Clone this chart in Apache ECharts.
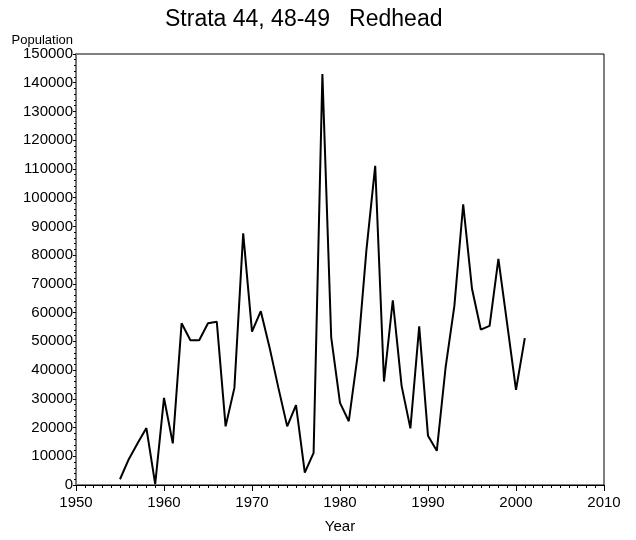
<!DOCTYPE html>
<html>
<head>
<meta charset="utf-8">
<script src="https://cdn.jsdelivr.net/npm/echarts@6/dist/echarts.min.js"></script>
<style>
  html, body { margin: 0; padding: 0; background: #fff; }
  #chart { width: 636px; height: 540px; }
</style>
</head>
<body>
<div id="chart"></div>
<script>
// Redhead population, strata 44, 48-49
const years = [
    1955, 1956, 1957, 1958, 1959, 1960, 1961, 1962, 1963, 1964,
    1965, 1966, 1967, 1968, 1969, 1970, 1971, 1972, 1973, 1974,
    1975, 1976, 1977, 1978, 1979, 1980, 1981, 1982, 1983, 1984,
    1985, 1986, 1987, 1988, 1989, 1990, 1991, 1992, 1993, 1994,
    1995, 1996, 1997, 1998, 1999, 2000, 2001
];
const population = [
    2000, 9000, 14500, 19800, 300, 30300, 14500, 56300, 50400, 50400,
    56300, 56800, 20400, 33800, 87600, 53400, 60500, 47800, 33800, 20400,
    27800, 4300, 11200, 143000, 51400, 28600, 22200, 45000, 81700, 111100,
    36000, 64300, 34500, 19700, 55200, 17100, 11900, 40900, 62400, 97700,
    68300, 54100, 55400, 78700, 56000, 33100, 51100
];
const yearTicks = [1950, 1960, 1970, 1980, 1990, 2000, 2010];

const font = "'Liberation Sans', Arial, sans-serif";
const chart = echarts.init(document.getElementById('chart'), null, {renderer: 'canvas'});

chart.setOption({
    animation: false,
    backgroundColor: '#fff',
    title: {
        text: 'Strata 44, 48-49   Redhead',
        left: 160,
        top: 3,
        textStyle: {fontFamily: font, fontSize: 23, fontWeight: 'normal', color: '#000'}
    },
    grid: {
        left: 76, right: 32, top: 54, bottom: 55,
        show: true, borderColor: '#000', borderWidth: 1,
        outerBoundsMode: 'none',
        containLabel: false
    },
    xAxis: {
        type: 'value',
        min: yearTicks[0],
        max: yearTicks[yearTicks.length - 1],
        interval: 10,
        name: 'Year',
        nameLocation: 'middle',
        nameGap: 34,
        nameTextStyle: {fontFamily: font, fontSize: 15, color: '#000'},
        axisLine: {lineStyle: {color: '#000', width: 1}},
        axisTick: {length: 6, lineStyle: {color: '#000'}},
        minorTick: {show: true, splitNumber: 10, length: 3, lineStyle: {color: '#000'}},
        splitLine: {show: false},
        axisLabel: {
            fontFamily: font, fontSize: 15, color: '#000', margin: 10,
            formatter: (v) => String(v)
        }
    },
    yAxis: {
        type: 'value',
        min: 0,
        max: 150000,
        interval: 10000,
        name: 'Population',
        nameLocation: 'end',
        nameGap: 6,
        nameTextStyle: {fontFamily: font, fontSize: 13, color: '#000', align: 'right', padding: [0, 3, 0, 0]},
        axisLine: {lineStyle: {color: '#777', width: 2}},
        axisTick: {length: 3, lineStyle: {color: '#000'}},
        minorTick: {show: true, splitNumber: 5, length: 2, lineStyle: {color: '#000'}},
        splitLine: {show: false},
        axisLabel: {
            fontFamily: font, fontSize: 15, color: '#000', margin: 3,
            formatter: (v) => String(v)
        }
    },
    series: [{
        type: 'line',
        data: years.map((y, i) => [y, population[i]]),
        showSymbol: false,
        lineStyle: {color: '#000', width: 2},
        z: 3
    }]
});
</script>
</body>
</html>
